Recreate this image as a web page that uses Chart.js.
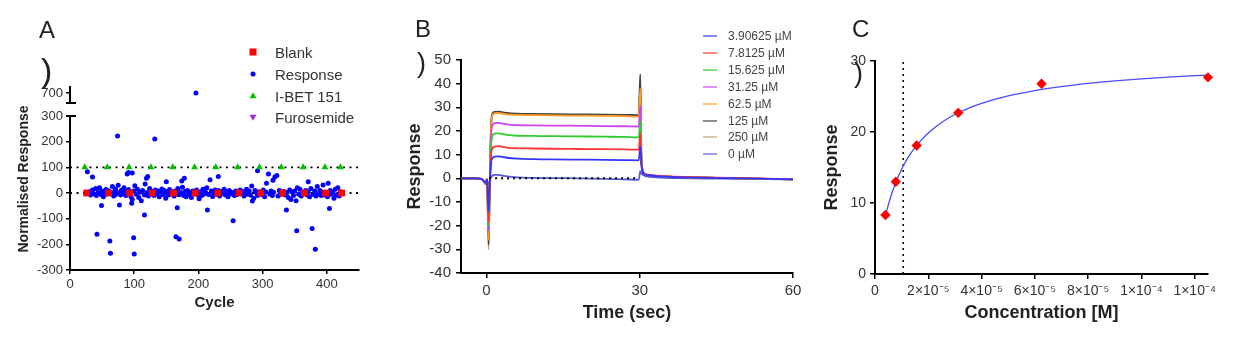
<!DOCTYPE html>
<html><head><meta charset="utf-8">
<script src="https://cdn.jsdelivr.net/npm/chart.js@4.4.0/dist/chart.umd.min.js"></script>
<style>
html,body{margin:0;padding:0;background:#fff;}
#wrap{position:relative;width:1234px;height:339px;overflow:hidden;font-family:'Liberation Sans',Arial,sans-serif;color:#222;}
canvas{position:absolute;left:0;top:0;}
.t{position:absolute;white-space:nowrap;line-height:1;}
.lgA{position:absolute;left:275px;font-size:15px;line-height:15px;color:#333;white-space:nowrap;}
.lgB{position:absolute;left:728px;font-size:12px;line-height:12px;color:#444;white-space:nowrap;}
.lnB{position:absolute;left:703px;width:14px;height:2px;opacity:0.6;}
</style></head><body>
<div id="wrap">
<canvas id="cA2" width="1234" height="339"></canvas>
<canvas id="cA" width="1234" height="339"></canvas>
<canvas id="cB" width="1234" height="339"></canvas>
<canvas id="cC" width="1234" height="339"></canvas>

<div class="t" style="left:39px;top:18px;font-size:24px;">A</div>
<div class="t" style="left:41px;top:53px;font-size:34px;">)</div>
<div class="t" style="left:415px;top:17px;font-size:24px;">B</div>
<div class="t" style="left:417px;top:50px;font-size:27px;">)</div>
<div class="t" style="left:852px;top:17px;font-size:24px;">C</div>
<div class="t" style="left:854px;top:60px;font-size:27px;">)</div>
<div class="t" style="left:23px;top:179px;font-size:14px;font-weight:bold;transform:translate(-50%,-50%) rotate(-90deg);">Normalised Response</div>

<!-- legend A -->
<svg style="position:absolute;left:247px;top:46px" width="12" height="12"><rect x="2.5" y="2.5" width="7" height="7" fill="#ff0000"/></svg>
<div class="lgA" style="top:45px">Blank</div>
<svg style="position:absolute;left:247px;top:68px" width="12" height="12"><circle cx="6" cy="6" r="2.5" fill="#0000ff"/></svg>
<div class="lgA" style="top:67px">Response</div>
<svg style="position:absolute;left:247px;top:90px" width="12" height="12"><polygon points="6,2.2 9.5,8.3 2.5,8.3" fill="#00c000"/></svg>
<div class="lgA" style="top:89px">I-BET 151</div>
<svg style="position:absolute;left:247px;top:111px" width="12" height="12"><polygon points="2.5,3.7 9.5,3.7 6,9.8" fill="#9a2fd0"/></svg>
<div class="lgA" style="top:110px">Furosemide</div>

<!-- legend B -->
<div id="legB"></div>
</div>
<script>
// ---------------- Panel A data ----------------
const aXTicks = [0, 100, 200, 300, 400];
const aYTicks = [-300, -200, -100, 0, 100, 200, 300];
const aYTopTicks = [700];
const blankCycle = [26, 60, 93, 128, 161, 195, 230, 263, 297, 331, 365, 398, 423];
const blankValue = [0, 0, 0, 0, 0, 0, 0, 0, 0, 0, 0, 0, 0];
const ibetCycle = [23, 58, 92, 126, 160, 194, 227, 261, 295, 329, 363, 397, 421];
const ibetValue = [100, 100, 100, 100, 100, 100, 100, 100, 100, 100, 100, 100, 100];
const furosemideCycle = [];
const furosemideValue = [];
const responseCycle = [
 27, 35, 42, 49, 62, 63, 74, 77, 89, 91, 96, 97, 99, 100, 116, 119, 121, 132, 150, 165, 167, 170, 174, 178,
 196, 214, 218, 231, 254, 283, 284, 292, 306, 309, 316, 319, 322, 337, 353, 354, 371, 377, 382, 394, 402, 404,
 30, 32, 35, 37, 40, 41, 44, 46, 48, 50, 52, 54, 56, 57, 60, 64, 66, 68, 69, 71, 72, 75, 77, 79, 80, 82, 84, 86,
 87, 89, 91, 95, 97, 99, 101, 103, 105, 107, 109, 111, 113, 116, 117, 120, 122, 124, 126, 129, 131, 133, 135,
 137, 139, 141, 143, 145, 147, 149, 151, 153, 155, 157, 159, 162, 164, 166, 168, 170, 172, 175, 177, 179, 181,
 183, 185, 187, 189, 191, 193, 197, 199, 201, 203, 205, 207, 209, 211, 213, 216, 220, 222, 224, 226, 228, 231,
 233, 235, 237, 240, 242, 244, 246, 248, 250, 252, 256, 258, 260, 265, 267, 269, 271, 273, 275, 277, 279, 281,
 286, 288, 290, 292, 294, 299, 301, 303, 305, 311, 313, 315, 317, 324, 326, 328, 333, 335, 338, 340, 342, 344,
 346, 348, 350, 352, 356, 358, 360, 362, 367, 369, 371, 373, 375, 379, 381, 383, 385, 387, 389, 391, 393, 396,
 401, 405, 407, 409, 411, 413, 415, 417, 419, 421
];
const responseValue = [
 83, 62, -161, -49, -187, -235, 222, -47, 74, 80, -40, 78, -174, -238, -86, 57, 64, 210, 44, -170, -57, -179, 47, 57,
 700, -66, 52, 64, -108, 27, -31, 87, 38, 74, 50, 62, 68, -66, -147, 20, 44, -138, -219, 31, 38, -60,
 5, -8, 12, -3, 18, -10, 2, 20, -6, 8, -15, 3, 14, -4, 9, -2, 25, -12, 6, 15, -5, 30, 2, -8, 11, -3, 20, 5,
 -10, 0, 14, -15, -25, 8, 28, -5, 15, -18, 3, -30, 10, -8, 35, 2, -12, 18, -4, 6, -10, 12, -2,
 8, -15, 4, 16, -6, 10, -20, 2, -8, 14, -3, 5, -12, 8, -4, 18, -7, 3, 22, -10, 6, -15,
 10, -5, 2, -18, 8, -3, 12, -8, -22, 5, -10, 15, -4, 3, 20, -6, 8, -14, 2, 12, -5, 10,
 -12, 6, -3, 15, -8, 4, -15, 10, -4, 2, -10, 8, -6, 12, -3, 6, -12, 3, 15, -5, 8, -8,
 -20, 10, 2, -10, 5, -6, 12, -15, 4, -4, 8, -10, 3, -12, 10, -5, 6, -8, 2, -18, 12, -25,
 4, -10, 8, -30, -5, 15, -12, 3, 10, -8, 5, -15, 18, -6, 8, -12, 25, -4, 10, -10, 2, -8,
 -15, 10, -5, 3, -20, 15, -8, 20, -12, 5
];

// ---------------- Panel B data ----------------
const bXTicks = [0, 30, 60];
const bYTicks = [-40, -30, -20, -10, 0, 10, 20, 30, 40, 50];
const timeSec = [-5, -2, -1, -0.5, -0.2, 0.1, 0.4, 0.6, 0.9, 1.2, 1.6, 2.2, 3, 4, 6, 9, 13, 18, 23, 27, 29.8, 30.1, 30.3, 30.6, 31, 32, 34, 37, 40, 45, 50, 55, 60];
const bLabels = ['3.90625 µM', '7.8125 µM', '15.625 µM', '31.25 µM', '62.5 µM', '125 µM', '250 µM', '0 µM'];
const resp3_90625 = [0, 0, -0.2, -1.3, -1.8, -0.5, -14, -4, 6.5, 8.6, 9.2, 9.3, 9.1, 8.7, 8.3, 8.1, 8.0, 7.9, 7.8, 7.7, 7.6, 13.5, 6, 2.5, 1.6, 1.2, 0.8, 0.5, 0.3, 0.1, 0, -0.2, -0.4];
const resp7_8125 = [0, 0, -0.2, -1.3, -1.8, -0.5, -18.5, -5, 10, 12.8, 13.4, 13.6, 13.4, 13.0, 12.7, 12.6, 12.5, 12.4, 12.3, 12.2, 12.1, 19, 7, 2.8, 1.8, 1.4, 1.0, 0.7, 0.5, 0.3, 0.1, -0.1, -0.3];
const resp15_625 = [0, 0, -0.2, -1.3, -1.8, -0.5, -20, -5, 14, 18.2, 18.9, 19.0, 18.8, 18.4, 18.0, 17.9, 17.8, 17.7, 17.6, 17.5, 17.3, 24, 8, 3, 1.8, 1.3, 0.9, 0.6, 0.4, 0.2, 0, -0.2, -0.4];
const resp31_25 = [0, 0, -0.2, -1.3, -1.8, -0.5, -22, -5, 18, 22.6, 23.3, 23.4, 23.2, 22.8, 22.5, 22.4, 22.3, 22.2, 22.1, 22.0, 21.9, 30.5, 9, 3, 1.8, 1.3, 0.9, 0.6, 0.4, 0.2, 0, -0.2, -0.4];
const resp62_5 = [0, 0, -0.2, -1.3, -1.8, -0.5, -26, -6, 22, 26.8, 27.5, 27.6, 27.4, 27.0, 26.8, 26.7, 26.6, 26.5, 26.4, 26.3, 26.1, 38, 10, 3.2, 1.9, 1.3, 0.9, 0.6, 0.4, 0.2, 0, -0.2, -0.4];
const resp125 = [0, 0, -0.2, -1.3, -1.8, -0.5, -28, -7, 23, 27.5, 28.1, 28.2, 28.0, 27.6, 27.3, 27.2, 27.1, 27.0, 26.9, 26.8, 26.7, 44, 11, 3.3, 1.9, 1.3, 0.9, 0.6, 0.4, 0.2, 0, -0.2, -0.4];
const resp250 = [0, 0, -0.2, -1.3, -1.8, -0.5, -30, -8, 22, 27.2, 27.8, 27.9, 27.7, 27.3, 27.0, 26.9, 26.8, 26.7, 26.6, 26.5, 26.4, 41, 10, 3.2, 1.9, 1.3, 0.9, 0.6, 0.4, 0.2, 0, -0.2, -0.4];
const resp0 = [0, 0, -0.2, -1.3, -2.5, -1.2, -3, -1, 0.5, 1.2, 1.5, 1.5, 1.2, 0.8, 0.4, 0.2, 0.1, 0, -0.2, -0.4, -0.6, 3.0, 2.2, 1.5, 1.0, 0.6, 0.3, 0.1, 0, -0.1, -0.2, -0.3, -0.4];
const bColors = ['#3434ff', '#ff3434', '#2fcc2f', '#cc44ee', '#ff9a26', '#444444', '#c8a070', '#5a5ad0'];
const bZeroLineX = [0.5, 29.5];

// ---------------- Panel C data ----------------
const cXTicks = [0, 2e-5, 4e-5, 6e-5, 8e-5, 1e-4, 1.2e-4];
const cXTickLabels = ['0', '2×10⁻⁵', '4×10⁻⁵', '6×10⁻⁵', '8×10⁻⁵', '1×10⁻⁴', '1×10⁻⁴'];
const cYTicks = [0, 10, 20, 30];
const concM = [3.90625e-6, 7.8125e-6, 1.5625e-5, 3.125e-5, 6.25e-5, 1.25e-4];
const respC = [8.3, 13.0, 18.1, 22.7, 26.8, 27.7];
const fitConc = [3.9e-6, 5e-6, 6e-6, 7e-6, 8e-6, 1e-5, 1.2e-5, 1.4e-5, 1.7e-5, 2e-5, 2.5e-5, 3e-5, 3.5e-5, 4e-5, 5e-5, 6e-5, 7e-5, 8e-5, 9e-5, 1e-4, 1.1e-4, 1.25e-4];
const fitResp = [8.18, 9.74, 10.99, 12.09, 13.08, 14.76, 16.14, 17.30, 18.72, 19.87, 21.35, 22.46, 23.33, 24.03, 25.08, 25.84, 26.40, 26.84, 27.20, 27.49, 27.73, 28.02];
const kdConc = 1.06e-5;

// ---------------- helpers ----------------
const FONT = "'Liberation Sans', Arial, sans-serif";
Chart.defaults.font.family = FONT;
Chart.defaults.color = '#333';

function pts(xs, ys) { return xs.map((x, i) => ({x: x, y: ys[i]})); }

function axis(o) {
  return {
    type: 'linear', display: o.display !== false, min: o.min, max: o.max,
    afterBuildTicks: s => { s.ticks = o.ticks.map(v => ({value: v})); },
    afterFit: s => { if (o.w != null) s.width = o.w; if (o.h != null) s.height = o.h; },
    border: {display: true, color: '#000', width: 2},
    grid: {display: true, drawOnChartArea: false, drawTicks: true, tickLength: o.tl, color: '#000', lineWidth: 1.5},
    ticks: {color: '#333', font: {size: o.fs}, padding: o.pad, autoSkip: false, maxRotation: 0, minRotation: 0,
      callback: o.cb || (v => String(v))},
    title: o.title ? {display: true, text: o.title, color: '#222', font: {size: o.tfs, weight: 'bold'}, padding: o.tpad} : {display: false}
  };
}
const baseOpts = (pad, scales) => ({
  responsive: false, animation: false, devicePixelRatio: 1,
  layout: {padding: pad},
  plugins: {legend: {display: false}, tooltip: {enabled: false}},
  events: [],
  scales: scales
});
const capPlugin = (where) => ({
  id: 'cap' + where,
  afterDraw(chart) {
    const a = chart.chartArea, ctx = chart.ctx;
    const y = where === 'top' ? a.top : a.bottom;
    ctx.save(); ctx.strokeStyle = '#000'; ctx.lineWidth = 2;
    ctx.beginPath(); ctx.moveTo(a.left - 4, y); ctx.lineTo(a.left + 6, y); ctx.stroke(); ctx.restore();
  }
});

// ---------------- Panel A (main) ----------------
const respAll = pts(responseCycle, responseValue);
new Chart(document.getElementById('cA'), {
  type: 'scatter',
  data: {datasets: [
    {data: [{x: 0, y: 0}, {x: 450, y: 0}], showLine: true, borderColor: '#000', borderWidth: 1.8, borderDash: [2, 4.5], pointRadius: 0, order: 5},
    {data: [{x: 0, y: 100}, {x: 450, y: 100}], showLine: true, borderColor: '#000', borderWidth: 1.8, borderDash: [2, 4.5], pointRadius: 0, order: 5},
    {label: 'Response', data: respAll.filter(p => p.y <= 300), pointStyle: 'circle', pointRadius: 2.5, borderWidth: 0, backgroundColor: '#0000ff', borderColor: '#0000ff', order: 3, clip: false},
    {label: 'Blank', data: pts(blankCycle, blankValue), pointStyle: 'rect', pointRadius: 4.8, borderWidth: 0, backgroundColor: '#ff0000', borderColor: '#ff0000', order: 1, clip: false},
    {label: 'I-BET 151', data: pts(ibetCycle, ibetValue), pointStyle: 'triangle', pointRadius: 4, borderWidth: 0, backgroundColor: '#00c000', borderColor: '#00c000', order: 1, clip: false},
    {label: 'Furosemide', data: pts(furosemideCycle, furosemideValue), pointStyle: 'triangle', rotation: 180, pointRadius: 4, borderWidth: 0, backgroundColor: '#9a2fd0', order: 1, clip: false}
  ]},
  options: baseOpts({left: 30, top: 116, right: 875, bottom: 27}, {
    x: axis({min: 0, max: 450, ticks: aXTicks, h: 42, tl: 4, pad: 3, fs: 13, title: 'Cycle', tfs: 15, tpad: {top: 0, bottom: 0}}),
    y: axis({min: -300, max: 300, ticks: aYTicks, w: 40, tl: 4, pad: 3, fs: 13})
  }),
  plugins: [capPlugin('top')]
});

// ---------------- Panel A (top segment of broken axis) ----------------
new Chart(document.getElementById('cA2'), {
  type: 'scatter',
  data: {datasets: [
    {label: 'Response', data: respAll.filter(p => p.y > 300), pointStyle: 'circle', pointRadius: 2.5, borderWidth: 0, backgroundColor: '#0000ff', clip: false}
  ]},
  options: baseOpts({left: 30, top: 87, right: 875, bottom: 236}, {
    x: axis({display: false, min: 0, max: 450, ticks: aXTicks, tl: 4, pad: 3, fs: 13}),
    y: axis({min: 650, max: 730, ticks: aYTopTicks, w: 40, tl: 4, pad: 3, fs: 13})
  }),
  plugins: [capPlugin('bottom')]
});

// ---------------- Panel B ----------------
const bSeries = [resp3_90625, resp7_8125, resp15_625, resp31_25, resp62_5, resp125, resp250, resp0];
const bSets = bSeries.map((arr, i) => ({
  label: bLabels[i], data: pts(timeSec, arr), showLine: true, borderColor: bColors[i], borderWidth: 1.8,
  pointRadius: 0, cubicInterpolationMode: 'monotone', order: i + 1
}));
bSets.push({data: pts(bZeroLineX, [0, 0]), showLine: true, borderColor: '#000', borderWidth: 2, borderDash: [2, 4], pointRadius: 0, order: 0});
new Chart(document.getElementById('cB'), {
  type: 'scatter',
  data: {datasets: bSets},
  options: baseOpts({left: 400, top: 60, right: 441, bottom: 15}, {
    x: axis({min: -5, max: 60, ticks: bXTicks, h: 51, tl: 5, pad: 4, fs: 15, title: 'Time (sec)', tfs: 18, tpad: {top: 0, bottom: 0}}),
    y: axis({min: -40, max: 50, ticks: bYTicks, w: 61, tl: 5, pad: 5, fs: 15, title: 'Response', tfs: 18, tpad: {top: 4, bottom: 0}})
  })
});
// legend B (HTML)
const legRows = [36, 53, 70, 87, 104, 121, 137, 154];
const legB = document.getElementById('legB');
bLabels.forEach((lab, i) => {
  const ln = document.createElement('div'); ln.className = 'lnB';
  ln.style.top = (legRows[i] - 1) + 'px'; ln.style.background = bColors[i]; legB.appendChild(ln);
  const tx = document.createElement('div'); tx.className = 'lgB';
  tx.style.top = (legRows[i] - 6) + 'px'; tx.textContent = lab; legB.appendChild(tx);
});

// ---------------- Panel C ----------------
new Chart(document.getElementById('cC'), {
  type: 'scatter',
  data: {datasets: [
    {data: pts([kdConc, kdConc], [0, 30]), showLine: true, borderColor: '#000', borderWidth: 1.6, borderDash: [2, 4], pointRadius: 0, order: 5},
    {data: pts(fitConc, fitResp), showLine: true, borderColor: '#4a4aff', borderWidth: 1.3, pointRadius: 0, cubicInterpolationMode: 'monotone', order: 3},
    {data: pts(concM, respC), pointStyle: 'rectRot', pointRadius: 5.2, borderWidth: 0, backgroundColor: '#ff0000', order: 1, clip: false}
  ]},
  options: baseOpts({left: 819, top: 61, right: 26, bottom: 15}, {
    x: axis({min: 0, max: 1.25e-4, ticks: cXTicks, h: 50, tl: 5, pad: 4, fs: 14, title: 'Concentration [M]', tfs: 18, tpad: {top: 0, bottom: 0},
      cb: (v, i) => cXTickLabels[i]}),
    y: axis({min: 0, max: 30, ticks: cYTicks, w: 56, tl: 5, pad: 4, fs: 14, title: 'Response', tfs: 18, tpad: {top: 2, bottom: 0}})
  })
});
</script>
</body></html>
